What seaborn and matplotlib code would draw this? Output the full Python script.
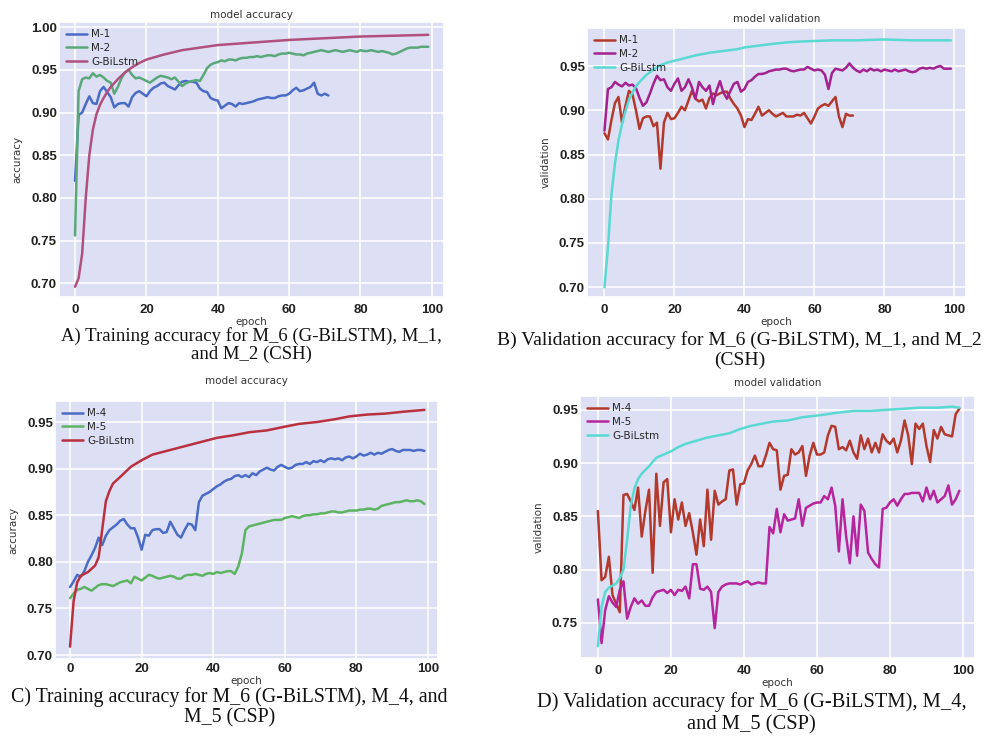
import matplotlib
matplotlib.use("Agg")
import matplotlib.pyplot as plt
import seaborn as sns
import numpy as np

# ---------------- data ----------------
# A) training accuracy (CSH)
a_m1 = [0.820, 0.897, 0.900, 0.910, 0.919, 0.911, 0.910, 0.925, 0.930, 0.924,
        0.918, 0.906, 0.910, 0.911, 0.911, 0.907, 0.918, 0.923, 0.925, 0.922,
        0.919, 0.925, 0.929, 0.931, 0.934, 0.935, 0.931, 0.929, 0.927, 0.932,
        0.936, 0.937, 0.936, 0.936, 0.935, 0.928, 0.925, 0.924, 0.917, 0.915,
        0.914, 0.905, 0.908, 0.911, 0.910, 0.907, 0.911, 0.910, 0.911, 0.912,
        0.913, 0.915, 0.916, 0.917, 0.918, 0.917, 0.917, 0.919, 0.920, 0.920,
        0.922, 0.926, 0.929, 0.925, 0.926, 0.928, 0.930, 0.935, 0.922, 0.920,
        0.922, 0.920]
a_m2 = [0.756, 0.925, 0.939, 0.941, 0.940, 0.946, 0.942, 0.944, 0.941, 0.937,
        0.935, 0.922, 0.930, 0.940, 0.947, 0.950, 0.944, 0.940, 0.941, 0.939,
        0.937, 0.935, 0.938, 0.941, 0.943, 0.942, 0.941, 0.939, 0.941, 0.936,
        0.931, 0.934, 0.936, 0.937, 0.938, 0.937, 0.944, 0.952, 0.956, 0.958,
        0.959, 0.961, 0.960, 0.962, 0.962, 0.961, 0.963, 0.964, 0.964, 0.965,
        0.965, 0.966, 0.965, 0.966, 0.967, 0.967, 0.966, 0.968, 0.969, 0.969,
        0.970, 0.969, 0.968, 0.968, 0.967, 0.969, 0.970, 0.971, 0.972, 0.973,
        0.972, 0.971, 0.972, 0.973, 0.972, 0.971, 0.972, 0.973, 0.972, 0.971,
        0.973, 0.972, 0.972, 0.973, 0.972, 0.971, 0.972, 0.971, 0.970, 0.968,
        0.969, 0.971, 0.973, 0.975, 0.976, 0.976, 0.976, 0.977, 0.977, 0.977]
a_g_epoch = [0, 1, 2, 3, 4, 5, 6, 7, 8, 9, 10, 12, 14, 16, 18, 20, 25, 30, 35,
             40, 50, 60, 70, 80, 90, 99]
a_g = [0.696, 0.706, 0.735, 0.800, 0.850, 0.880, 0.898, 0.909, 0.917, 0.924,
       0.930, 0.939, 0.947, 0.953, 0.958, 0.962, 0.968, 0.973, 0.976, 0.979,
       0.982, 0.985, 0.987, 0.989, 0.990, 0.991]

# B) validation accuracy (CSH)
b_m1 = [0.874, 0.867, 0.889, 0.908, 0.915, 0.886, 0.905, 0.922, 0.918, 0.900,
        0.879, 0.891, 0.893, 0.893, 0.882, 0.886, 0.834, 0.886, 0.897, 0.890,
        0.891, 0.897, 0.904, 0.900, 0.911, 0.922, 0.913, 0.910, 0.912, 0.902,
        0.914, 0.919, 0.917, 0.919, 0.921, 0.921, 0.913, 0.907, 0.902, 0.894,
        0.881, 0.890, 0.889, 0.896, 0.904, 0.894, 0.897, 0.900, 0.896, 0.893,
        0.895, 0.897, 0.893, 0.893, 0.893, 0.895, 0.894, 0.897, 0.891, 0.885,
        0.893, 0.902, 0.905, 0.907, 0.905, 0.910, 0.915, 0.893, 0.881, 0.896,
        0.894, 0.894]
b_m2 = [0.877, 0.924, 0.926, 0.932, 0.929, 0.927, 0.931, 0.928, 0.929, 0.925,
        0.914, 0.905, 0.909, 0.919, 0.930, 0.939, 0.934, 0.935, 0.926, 0.922,
        0.930, 0.936, 0.922, 0.926, 0.935, 0.926, 0.913, 0.932, 0.926, 0.922,
        0.928, 0.907, 0.922, 0.933, 0.920, 0.913, 0.922, 0.930, 0.932, 0.921,
        0.924, 0.932, 0.934, 0.938, 0.941, 0.941, 0.942, 0.944, 0.945, 0.946,
        0.946, 0.947, 0.947, 0.945, 0.944, 0.945, 0.946, 0.946, 0.949, 0.947,
        0.945, 0.946, 0.945, 0.940, 0.924, 0.942, 0.947, 0.946, 0.945, 0.948,
        0.953, 0.948, 0.945, 0.943, 0.946, 0.944, 0.947, 0.945, 0.946, 0.944,
        0.946, 0.945, 0.944, 0.946, 0.944, 0.945, 0.946, 0.944, 0.943, 0.944,
        0.947, 0.948, 0.947, 0.948, 0.947, 0.949, 0.950, 0.947, 0.947, 0.947]
b_g_epoch = [0, 1, 2, 3, 4, 5, 6, 7, 8, 9, 10, 12, 14, 16, 18, 20, 23, 26, 30,
             34, 38, 40, 44, 48, 53, 58, 65, 72, 80, 88, 95, 99]
b_g = [0.700, 0.745, 0.805, 0.840, 0.866, 0.884, 0.899, 0.912, 0.920, 0.927,
       0.932, 0.940, 0.946, 0.951, 0.954, 0.956, 0.959, 0.962, 0.965, 0.967,
       0.969, 0.971, 0.973, 0.975, 0.977, 0.978, 0.979, 0.979, 0.980, 0.979,
       0.979, 0.979]

# C) training accuracy (CSP)
c_m4 = [0.773, 0.779, 0.786, 0.784, 0.790, 0.800, 0.807, 0.815, 0.826, 0.818,
        0.828, 0.834, 0.837, 0.840, 0.844, 0.846, 0.840, 0.836, 0.836, 0.826,
        0.813, 0.829, 0.828, 0.834, 0.835, 0.835, 0.831, 0.832, 0.843, 0.836,
        0.829, 0.826, 0.834, 0.841, 0.840, 0.834, 0.864, 0.871, 0.873, 0.875,
        0.878, 0.881, 0.883, 0.886, 0.888, 0.889, 0.892, 0.893, 0.891, 0.893,
        0.891, 0.895, 0.893, 0.897, 0.899, 0.901, 0.899, 0.898, 0.902, 0.904,
        0.902, 0.900, 0.901, 0.904, 0.905, 0.905, 0.907, 0.905, 0.908, 0.907,
        0.909, 0.907, 0.910, 0.911, 0.910, 0.911, 0.909, 0.912, 0.913, 0.911,
        0.913, 0.916, 0.914, 0.915, 0.917, 0.915, 0.917, 0.916, 0.918, 0.920,
        0.921, 0.919, 0.918, 0.920, 0.920, 0.920, 0.919, 0.920, 0.920, 0.919]
c_m5 = [0.761, 0.766, 0.770, 0.771, 0.773, 0.771, 0.769, 0.772, 0.775, 0.776,
        0.776, 0.775, 0.774, 0.776, 0.778, 0.779, 0.780, 0.777, 0.784, 0.782,
        0.780, 0.783, 0.786, 0.785, 0.783, 0.782, 0.783, 0.784, 0.785, 0.784,
        0.782, 0.782, 0.785, 0.786, 0.786, 0.787, 0.786, 0.785, 0.787, 0.788,
        0.787, 0.789, 0.788, 0.789, 0.790, 0.790, 0.787, 0.795, 0.809, 0.834,
        0.838, 0.839, 0.840, 0.841, 0.842, 0.843, 0.844, 0.845, 0.845, 0.845,
        0.847, 0.848, 0.849, 0.848, 0.847, 0.849, 0.850, 0.850, 0.851, 0.851,
        0.852, 0.852, 0.853, 0.854, 0.854, 0.853, 0.853, 0.854, 0.855, 0.855,
        0.855, 0.856, 0.856, 0.857, 0.857, 0.856, 0.857, 0.860, 0.861, 0.862,
        0.863, 0.864, 0.864, 0.865, 0.866, 0.865, 0.865, 0.866, 0.865, 0.862]
c_g_epoch = [0, 1, 2, 3, 5, 7, 8, 9, 10, 11, 12, 14, 17, 20, 23, 27, 32, 36,
             41, 46, 50, 55, 60, 64, 69, 74, 78, 83, 88, 93, 99]
c_g = [0.709, 0.758, 0.778, 0.785, 0.789, 0.796, 0.805, 0.835, 0.865, 0.876,
       0.884, 0.891, 0.902, 0.909, 0.915, 0.919, 0.924, 0.928, 0.933, 0.936,
       0.939, 0.941, 0.945, 0.948, 0.950, 0.953, 0.956, 0.958, 0.959, 0.961,
       0.963]

# D) validation accuracy (CSP)
d_m4 = [0.855, 0.790, 0.793, 0.812, 0.776, 0.768, 0.760, 0.870, 0.871, 0.864,
        0.856, 0.877, 0.831, 0.855, 0.875, 0.797, 0.890, 0.841, 0.882, 0.885,
        0.835, 0.866, 0.847, 0.863, 0.841, 0.853, 0.835, 0.814, 0.847, 0.822,
        0.875, 0.828, 0.874, 0.861, 0.864, 0.866, 0.893, 0.894, 0.861, 0.880,
        0.881, 0.893, 0.899, 0.907, 0.897, 0.897, 0.907, 0.919, 0.913, 0.912,
        0.875, 0.888, 0.889, 0.913, 0.908, 0.910, 0.916, 0.888, 0.907, 0.919,
        0.908, 0.908, 0.910, 0.926, 0.935, 0.934, 0.913, 0.915, 0.912, 0.921,
        0.910, 0.904, 0.926, 0.913, 0.923, 0.910, 0.919, 0.910, 0.927, 0.921,
        0.918, 0.923, 0.910, 0.921, 0.940, 0.926, 0.899, 0.937, 0.932, 0.937,
        0.916, 0.901, 0.931, 0.923, 0.934, 0.927, 0.926, 0.925, 0.946, 0.951]
d_m5 = [0.772, 0.731, 0.762, 0.775, 0.769, 0.765, 0.781, 0.789, 0.754, 0.765,
        0.773, 0.768, 0.771, 0.766, 0.766, 0.774, 0.779, 0.780, 0.781, 0.778,
        0.781, 0.776, 0.781, 0.780, 0.784, 0.773, 0.805, 0.805, 0.782, 0.781,
        0.784, 0.779, 0.745, 0.779, 0.784, 0.786, 0.787, 0.787, 0.787, 0.786,
        0.788, 0.789, 0.786, 0.787, 0.788, 0.787, 0.787, 0.840, 0.834, 0.857,
        0.835, 0.852, 0.846, 0.847, 0.848, 0.866, 0.841, 0.858, 0.860, 0.862,
        0.863, 0.863, 0.869, 0.866, 0.877, 0.860, 0.817, 0.866, 0.831, 0.806,
        0.850, 0.813, 0.861, 0.855, 0.816, 0.810, 0.805, 0.802, 0.857, 0.858,
        0.863, 0.866, 0.860, 0.866, 0.871, 0.871, 0.872, 0.872, 0.872, 0.864,
        0.877, 0.866, 0.874, 0.863, 0.866, 0.869, 0.879, 0.861, 0.866, 0.874]
d_g_epoch = [0, 1, 2, 3, 4, 5, 6, 7, 8, 9, 10, 11, 12, 14, 16, 18, 20, 22, 24,
             27, 30, 33, 36, 39, 42, 45, 48, 52, 56, 61, 65, 70, 75, 79, 84, 88,
             93, 97, 99]
d_g = [0.728, 0.765, 0.779, 0.783, 0.785, 0.787, 0.792, 0.800, 0.828, 0.860,
       0.876, 0.885, 0.890, 0.897, 0.905, 0.908, 0.911, 0.915, 0.918, 0.921,
       0.924, 0.926, 0.928, 0.932, 0.935, 0.937, 0.939, 0.940, 0.943, 0.945,
       0.947, 0.949, 0.949, 0.950, 0.951, 0.952, 0.952, 0.953, 0.952]

xticks = [0, 20, 40, 60, 80, 100]
yticks_a = [0.70, 0.75, 0.80, 0.85, 0.90, 0.95, 1.00]
yticks_bc = [0.70, 0.75, 0.80, 0.85, 0.90, 0.95]
yticks_d = [0.75, 0.80, 0.85, 0.90, 0.95]

captions = [
    ("A) Training accuracy for M_6 (G-BiLSTM), M_1,", "and M_2 (CSH)"),
    ("B) Validation accuracy for M_6 (G-BiLSTM), M_1, and M_2", "(CSH)"),
    ("C) Training accuracy for M_6 (G-BiLSTM), M_4, and", "M_5 (CSP)"),
    ("D) Validation accuracy for M_6 (G-BiLSTM), M_4,", "and M_5 (CSP)"),
]

# ---------------- style ----------------
sns.set_theme(style="darkgrid", rc={"axes.facecolor": "#dde0f4",
                                    "grid.color": "white",
                                    "grid.linewidth": 1.1})
plt.rcParams['font.family'] = ['DejaVu Sans']

fig = plt.figure(figsize=(9.93, 7.36), dpi=100)

# axes rectangles in figure fractions
axA = fig.add_axes([0.0594, 0.5965, 0.3877, 0.3736])
axB = fig.add_axes([0.5911, 0.5965, 0.3817, 0.3655])
axC = fig.add_axes([0.0554, 0.1046, 0.3857, 0.3505])
axD = fig.add_axes([0.5841, 0.1060, 0.3978, 0.3560])

blue = '#4a6cc6'
green = '#5aa87a'
green2 = '#5cb462'
mauve = '#b0507e'
red = '#b9303f'
brick = '#b3392c'
purple = '#a3228f'
magenta = '#b6249e'
cyan = '#5ad8d2'

lw = 1.8


def draw(ax, series, title, ylabel, yticks, ylim, xlim, title_pad, xpad):
    for xs, ys, col, lab in series:
        sns.lineplot(x=xs, y=ys, ax=ax, color=col, label=lab, linewidth=lw)
    ax.set_xlim(*xlim)
    ax.set_ylim(*ylim)
    ax.set_xticks(xticks)
    ax.set_yticks(yticks)
    ax.set_yticklabels(['%.2f' % t for t in yticks])
    for t in ax.get_xticklabels() + ax.get_yticklabels():
        t.set_fontfamily('Liberation Sans')
        t.set_fontweight('bold')
        t.set_fontsize(9.5)
        t.set_color('#222222')
    ax.tick_params(axis='both', length=0)
    ax.tick_params(axis='y', pad=1.5)
    ax.tick_params(axis='x', pad=xpad)
    ax.set_title(title, fontsize=7.5, color='#333333', pad=title_pad)
    ax.set_xlabel('epoch', fontsize=7.5, color='#333333', labelpad=0.5)
    ax.set_ylabel(ylabel, fontsize=7.5, color='#333333', labelpad=6)
    ax.legend(loc='upper left', frameon=False, fontsize=7.5,
              handlelength=2.0, handletextpad=0.4, labelspacing=0.35,
              borderaxespad=0.3)


ep100 = list(range(100))
ep72 = list(range(72))

draw(axA, [(ep72, a_m1, blue, 'M-1'), (ep100, a_m2, green, 'M-2'),
           (a_g_epoch, a_g, mauve, 'G-BiLstm')],
     'model accuracy', 'accuracy', yticks_a, (0.684, 1.006), (-4.5, 103.4), 3, 5)
draw(axB, [(ep72, b_m1, brick, 'M-1'), (ep100, b_m2, purple, 'M-2'),
           (b_g_epoch, b_g, cyan, 'G-BiLstm')],
     'model validation', 'validation', yticks_bc, (0.689, 0.993), (-5.0, 103.3), 4, 5)
draw(axC, [(ep100, c_m4, blue, 'M-4'), (ep100, c_m5, green2, 'M-5'),
           (c_g_epoch, c_g, red, 'G-BiLstm')],
     'model accuracy', 'accuracy', yticks_bc, (0.6957, 0.9725), (-4.2, 102.8), 12, 3)
draw(axD, [(ep100, d_m4, brick, 'M-4'), (ep100, d_m5, magenta, 'M-5'),
           (d_g_epoch, d_g, cyan, 'G-BiLstm')],
     'model validation', 'validation', yticks_d, (0.717, 0.963), (-4.9, 103.3), 7, 5)

# captions under each panel (the source panels were pasted at slightly different scales)
cap_pos = [(0.253, 0.544, 0.519), (0.745, 0.538, 0.510),
           (0.231, 0.053, 0.024), (0.757, 0.046, 0.015)]
cap_size = [13.5, 14.0, 14.3, 14.8]
for (l1, l2), (cx, y1, y2), fs in zip(captions, cap_pos, cap_size):
    fig.text(cx, y1, l1, ha='center', va='center', fontsize=fs,
             family='Liberation Serif', color='#111111')
    fig.text(cx, y2, l2, ha='center', va='center', fontsize=fs,
             family='Liberation Serif', color='#111111')

fig.savefig('out.png', dpi=100)
